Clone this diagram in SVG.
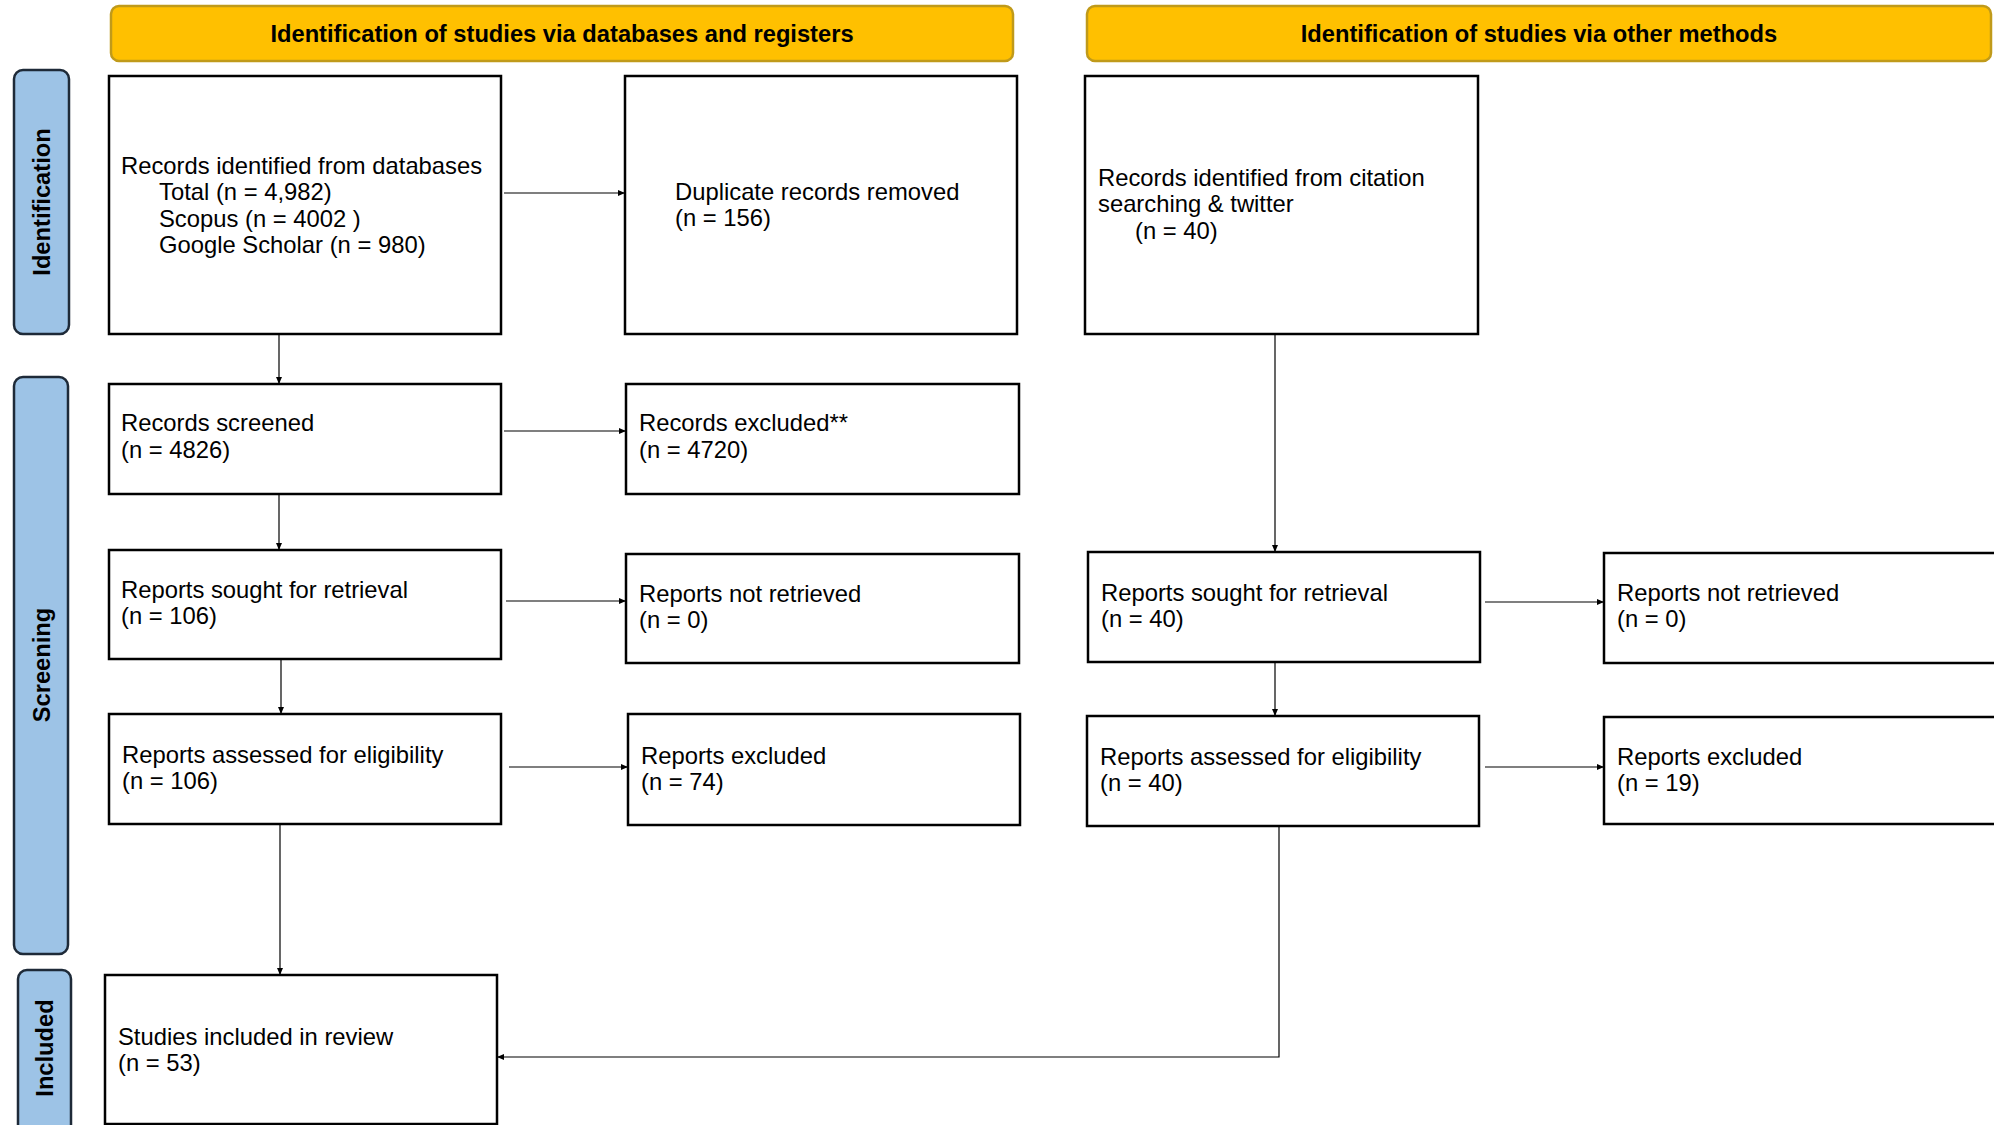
<svg xmlns="http://www.w3.org/2000/svg" width="1994" height="1125" viewBox="0 0 1994 1125">
<style>
.bg{fill:#ffffff}
.hdr{fill:#FFC000;stroke:#C09A1A;stroke-width:2.5}
.hdrt{font-family:"Liberation Sans",Arial,sans-serif;font-weight:bold;font-size:23.7px;fill:#000;text-anchor:middle}
.side{fill:#9DC3E6;stroke:#1E2A38;stroke-width:2.5}
.sidet{font-family:"Liberation Sans",Arial,sans-serif;font-weight:bold;font-size:23.7px;fill:#000;text-anchor:middle}
.box{fill:#ffffff;stroke:#000;stroke-width:2.5}
.t{font-family:"Liberation Sans",Arial,sans-serif;font-size:23.8px;fill:#000}
.c{fill:none;stroke:#000;stroke-width:1.2;marker-end:url(#ah)}
</style>
<defs>
<marker id="ah" markerUnits="userSpaceOnUse" markerWidth="7" markerHeight="6" refX="7" refY="3" orient="auto">
<path d="M0,0 L7,3 L0,6 z" fill="#000"/>
</marker>
</defs>
<rect class="bg" x="0" y="0" width="1994" height="1125"/>

<g id="header-databases">
<rect class="hdr" x="111" y="6" width="902" height="55" rx="8"/>
<text class="hdrt" x="562" y="42">Identification of studies via databases and registers</text>
</g>
<g id="header-other">
<rect class="hdr" x="1087" y="6" width="904" height="55" rx="8"/>
<text class="hdrt" x="1539" y="42">Identification of studies via other methods</text>
</g>

<g id="side-identification">
<rect class="side" x="14" y="70" width="55" height="264" rx="9"/>
<text class="sidet" x="50" y="202" transform="rotate(-90 50 202)">Identification</text>
</g>
<g id="side-screening">
<rect class="side" x="14" y="377" width="54" height="577" rx="9"/>
<text class="sidet" x="50" y="665" transform="rotate(-90 50 665)">Screening</text>
</g>
<g id="side-included">
<rect class="side" x="18" y="970" width="53" height="175" rx="9"/>
<text class="sidet" x="53" y="1048" transform="rotate(-90 53 1048)">Included</text>
</g>

<g id="connectors">
<path class="c" d="M504,193 L625,193"/>
<path class="c" d="M279,327 L279,384"/>
<path class="c" d="M504,431 L626,431"/>
<path class="c" d="M279,494 L279,550"/>
<path class="c" d="M506,601 L626,601"/>
<path class="c" d="M281,655 L281,714"/>
<path class="c" d="M509,767 L628,767"/>
<path class="c" d="M280,822 L280,975"/>
<path class="c" d="M1275,328 L1275,552"/>
<path class="c" d="M1485,602 L1604,602"/>
<path class="c" d="M1275,657 L1275,716"/>
<path class="c" d="M1485,767 L1604,767"/>
<path class="c" d="M1279,821 L1279,1057 L497,1057"/>
</g>

<g id="records-identified">
<rect class="box" x="109" y="76" width="392" height="258"/>
<text class="t" x="121" y="173.5">Records identified from databases</text>
<text class="t" x="159" y="200">Total (n = 4,982)</text>
<text class="t" x="159" y="226.5">Scopus (n = 4002 )</text>
<text class="t" x="159" y="253">Google Scholar (n = 980)</text>
</g>
<g id="duplicates-removed">
<rect class="box" x="625" y="76" width="392" height="258"/>
<text class="t" x="675" y="199.5">Duplicate records removed</text>
<text class="t" x="675" y="226">(n = 156)</text>
</g>
<g id="records-citation">
<rect class="box" x="1085" y="76" width="393" height="258"/>
<text class="t" x="1098" y="185.5">Records identified from citation</text>
<text class="t" x="1098" y="212">searching &amp; twitter</text>
<text class="t" x="1135" y="238.5">(n = 40)</text>
</g>
<g id="records-screened">
<rect class="box" x="109" y="384" width="392" height="110"/>
<text class="t" x="121" y="431">Records screened</text>
<text class="t" x="121" y="457.5">(n = 4826)</text>
</g>
<g id="records-excluded">
<rect class="box" x="626" y="384" width="393" height="110"/>
<text class="t" x="639" y="431">Records excluded**</text>
<text class="t" x="639" y="457.5">(n = 4720)</text>
</g>
<g id="reports-sought">
<rect class="box" x="109" y="550" width="392" height="109"/>
<text class="t" x="121" y="597.5">Reports sought for retrieval</text>
<text class="t" x="121" y="624">(n = 106)</text>
</g>
<g id="reports-not-retrieved">
<rect class="box" x="626" y="554" width="393" height="109"/>
<text class="t" x="639" y="601.5">Reports not retrieved</text>
<text class="t" x="639" y="628">(n = 0)</text>
</g>
<g id="reports-sought-other">
<rect class="box" x="1088" y="552" width="392" height="110"/>
<text class="t" x="1101" y="600.5">Reports sought for retrieval</text>
<text class="t" x="1101" y="627">(n = 40)</text>
</g>
<g id="reports-not-retrieved-other">
<rect class="box" x="1604" y="553" width="420" height="110"/>
<text class="t" x="1617" y="600.5">Reports not retrieved</text>
<text class="t" x="1617" y="627">(n = 0)</text>
</g>
<g id="reports-assessed">
<rect class="box" x="109" y="714" width="392" height="110"/>
<text class="t" x="122" y="762.5">Reports assessed for eligibility</text>
<text class="t" x="122" y="789">(n = 106)</text>
</g>
<g id="reports-excluded">
<rect class="box" x="628" y="714" width="392" height="111"/>
<text class="t" x="641" y="763.5">Reports excluded</text>
<text class="t" x="641" y="790">(n = 74)</text>
</g>
<g id="reports-assessed-other">
<rect class="box" x="1087" y="716" width="392" height="110"/>
<text class="t" x="1100" y="764.5">Reports assessed for eligibility</text>
<text class="t" x="1100" y="791">(n = 40)</text>
</g>
<g id="reports-excluded-other">
<rect class="box" x="1604" y="717" width="420" height="107"/>
<text class="t" x="1617" y="764.5">Reports excluded</text>
<text class="t" x="1617" y="791">(n = 19)</text>
</g>
<g id="studies-included">
<rect class="box" x="105" y="975" width="392" height="149"/>
<text class="t" x="118" y="1044.5">Studies included in review</text>
<text class="t" x="118" y="1071">(n = 53)</text>
</g>
</svg>
